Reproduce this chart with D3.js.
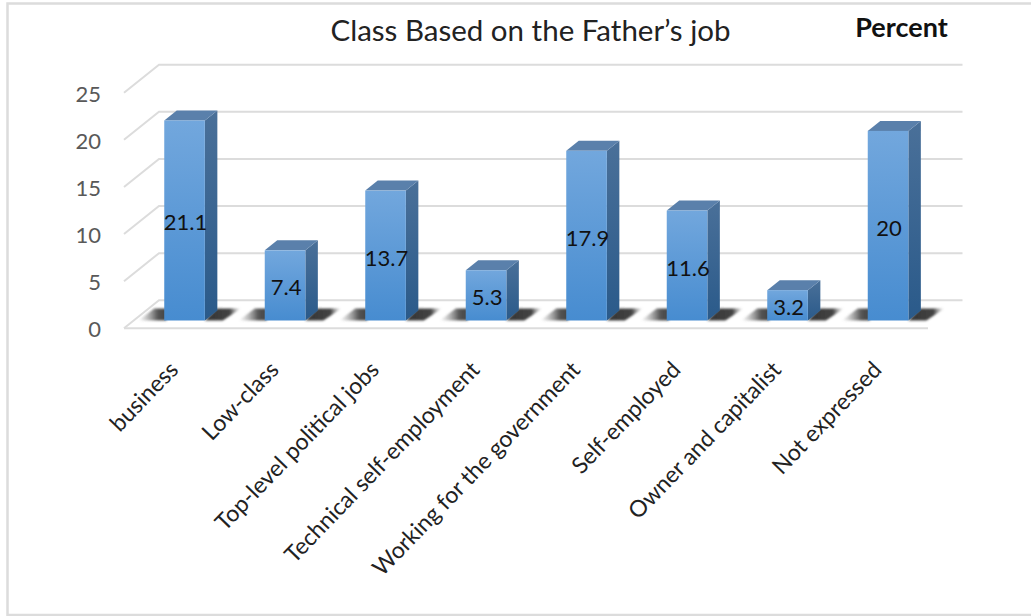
<!DOCTYPE html>
<html><head><meta charset="utf-8">
<script src="https://cdn.jsdelivr.net/npm/d3@7/dist/d3.min.js"></script>
<style>html,body{margin:0;padding:0;background:#fff}svg{display:block}</style>
</head><body><svg id="c" width="1031" height="616"></svg>
<script>
const categories=["business","Low-class","Top-level political jobs","Technical self-employment","Working for the government","Self-employed","Owner and capitalist","Not expressed"];
const values=[21.1,7.4,13.7,5.3,17.9,11.6,3.2,20];
const labels=["21.1","7.4","13.7","5.3","17.9","11.6","3.2","20"];
const ticks=[0,5,10,15,20,25];
const font="Lato, Open Sans, sans-serif";
const svg=d3.select("#c");
const defs=svg.append("defs");
const g1=defs.append("linearGradient").attr("id","f").attr("x1",0).attr("y1",0).attr("x2",0).attr("y2",1);
g1.append("stop").attr("offset","0").attr("stop-color","#72a7dd");
g1.append("stop").attr("offset","1").attr("stop-color","#478cd0");
const g2=defs.append("linearGradient").attr("id","s").attr("x1",0).attr("y1",0).attr("x2",0).attr("y2",1);
g2.append("stop").attr("offset","0").attr("stop-color","#4a7099");
g2.append("stop").attr("offset","1").attr("stop-color","#2a5a8a");
const g3=defs.append("linearGradient").attr("id","shL").attr("x1",0).attr("y1",0).attr("x2",1).attr("y2",0);
g3.append("stop").attr("offset","0").attr("stop-color","#888").attr("stop-opacity",0);
g3.append("stop").attr("offset","0.7").attr("stop-color","#555");
g3.append("stop").attr("offset","1").attr("stop-color","#444");
const g4=defs.append("linearGradient").attr("id","shR").attr("x1",0).attr("y1",0).attr("x2",1).attr("y2",0);
g4.append("stop").attr("offset","0").attr("stop-color","#333");
g4.append("stop").attr("offset","0.7").attr("stop-color","#444");
g4.append("stop").attr("offset","1").attr("stop-color","#888").attr("stop-opacity",0);
defs.append("filter").attr("id","b").attr("x","-20%").attr("y","-30%").attr("width","140%").attr("height","160%")
  .append("feGaussianBlur").attr("stdDeviation",1);
svg.append("path").attr("d","M1031,3.5L7.5,3.5L7.5,615L1031,615").attr("fill","none").attr("stroke","#dcdcdc").attr("stroke-width",2.5);
const y=d3.scaleLinear().domain([0,25]).range([328.3,92.7]);
const x=d3.scaleBand().domain(categories).range([134.3,938.3]);
const w=40.6,ox=12.5,oy=-10,base=320.5;
const h=d3.scaleLinear().domain([0,25]).range([0,237]);
const dx=35,dy=-28;
const grid="#dcdcdc";
ticks.forEach(t=>{
  svg.append("path").attr("d",`M124,${y(t)}L${124+dx},${y(t)+dy}L962.5,${y(t)+dy}`).attr("fill","none").attr("stroke",grid).attr("stroke-width",2);
  svg.append("text").attr("x",101).attr("y",y(t)+9).attr("text-anchor","end").attr("font-family",font).attr("font-size",22).attr("fill","#595959").text(t);
});
svg.append("path").attr("d",`M124,328.3L928,328.3`).attr("stroke",grid).attr("stroke-width",2);
const cx=d=>x(d)+x.bandwidth()/2;
categories.forEach(c=>{
  const l=cx(c)-w/2,r=l+w;
  svg.append("path").attr("d",`M${l-26},${base}L${l+2},${base}L${l+2},${base-12}L${l-10},${base-12}Z`).attr("fill","url(#shL)").attr("filter","url(#b)");
  svg.append("path").attr("d",`M${r},${base}L${r+18},${base}L${r+36},${base-12}L${r+12},${base-12}Z`).attr("fill","url(#shR)").attr("filter","url(#b)");
});
categories.forEach((c,i)=>{
  const v=values[i],l=cx(c)-w/2,r=l+w,t=base-h(v);
  svg.append("path").attr("d",`M${r},${t}L${r+ox},${t+oy}L${r+ox},${base+oy}L${r},${base}Z`).attr("fill","url(#s)");
  svg.append("path").attr("d",`M${l},${t}L${l+ox},${t+oy}L${r+ox},${t+oy}L${r},${t}Z`).attr("fill","#5a80ab");
  svg.append("rect").attr("x",l).attr("y",t).attr("width",w).attr("height",h(v)).attr("fill","url(#f)");
  svg.append("text").attr("x",cx(c)+1).attr("y",t+h(v)/2+10).attr("text-anchor","middle").attr("font-family",font).attr("font-size",22).attr("fill","#111").text(labels[i]);
  svg.append("text").attr("transform",`translate(${cx(c)-5},${371}) rotate(-46)`).attr("text-anchor","end").attr("font-family",font).attr("font-size",23).attr("fill","#222").text(c);
});
svg.append("text").attr("x",530.5).attr("y",41).attr("text-anchor","middle").attr("font-family",font).attr("font-size",29.5).attr("fill","#222").text("Class Based on the Father’s job");
svg.append("text").attr("x",901.5).attr("y",37).attr("text-anchor","middle").attr("font-family",font).attr("font-weight",700).attr("font-size",27).attr("fill","#111").text("Percent");
</script></body></html>
